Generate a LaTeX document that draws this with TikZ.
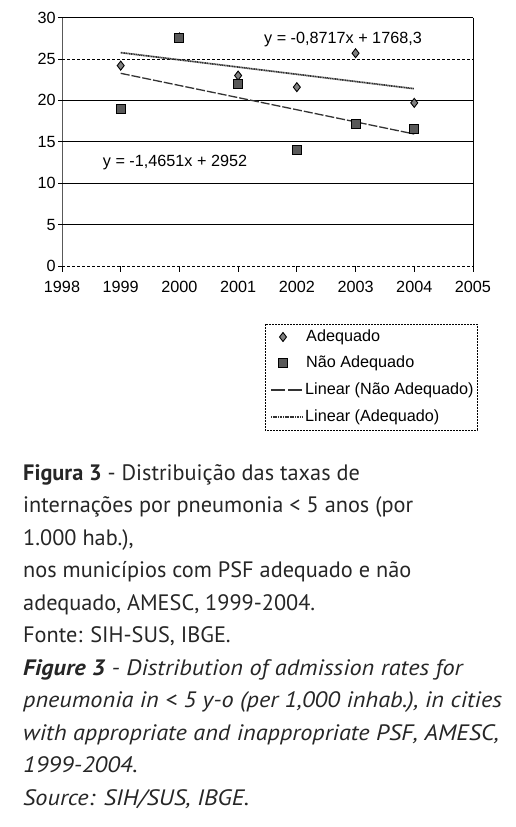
\documentclass[tikz,border=0pt]{standalone}
\usepackage{fontspec}
\setmainfont{PT Sans}[ItalicFeatures={FakeStretch=1.09},BoldItalicFeatures={FakeStretch=1.09}]
\newfontfamily\chartfont{Liberation Sans}
\usetikzlibrary{positioning}

\begin{document}
\begin{tikzpicture}[x=1pt,y=-1pt]
  \useasboundingbox (0,0) rectangle (515,827);
  % chart: years 1998..2005 along x, rates 0..30 along y
  \begin{scope}[xshift=62pt,yshift=-266pt,x=58.71pt,y=8.28pt,
      font=\chartfont\fontsize{16.2}{19}\selectfont]
    \foreach \v in {5,10,15,20,30} \draw[line width=0.8pt] (0,\v) -- (7,\v);
    \foreach \v in {0,25} \draw[line width=0.6pt,dash pattern=on 3pt off 2pt] (0,\v) -- (7,\v);
    \draw[line width=0.8pt] (0,30) -- (0,0) -- +(0,-6pt);
    \draw[line width=0.8pt] (7,30) -- (7,0) -- +(0,-6pt);
    \foreach \v in {0,5,...,30}
      \draw[line width=0.8pt] (0,\v) -- +(-4pt,0) node[left,inner sep=2pt] (ylab\v) {\v};
    \foreach \yr [count=\i from 0] in {1998,...,2005}
      \draw[line width=0.8pt] (\i,0) -- +(0,-6pt) node[below=8.5pt,inner sep=0pt] (xlab\yr) {\yr};
    % trend lines
    \draw[black!80,line width=1.7pt,dash pattern=on 1.2pt off 0.5pt] (1,25.77) -- (6,21.41);
    \draw[black!80,line width=1.3pt,dash pattern=on 9pt off 2pt] (1,23.27) -- (6,15.94);
    % Adequado
    \foreach \x/\v in {1/24.2,2/27.6,3/23.0,4/21.6,5/25.7,6/19.7}
      \filldraw[fill=black!50,line width=0.9pt] (\x,\v) +(0,4.5pt) -- +(3.5pt,0) -- +(0,-4.5pt) -- +(-3.5pt,0) -- cycle;
    % Nao Adequado
    \foreach \x/\v in {1/19.0,2/27.6,3/22.0,4/14.0,5/17.1,6/16.6}
      \filldraw[fill=black!65,line width=0.9pt] (\x,\v) +(-4.5pt,-4.5pt) rectangle +(4.5pt,4.5pt);
  \end{scope}
  \begin{scope}[font=\chartfont\fontsize{16.2}{19}\selectfont]
    \node (eqade) at (343,40) {y = -0,8717x + 1768,3};
    \node (eqnao) at (175,163) {y = -1,4651x + 2952};
    % legend
    \draw[line width=0.6pt,dash pattern=on 2pt off 1pt] (265,324) rectangle (477,430);
    \filldraw[fill=black!50,line width=0.9pt] (283,337) +(0,4.5pt) -- +(3.5pt,0) -- +(0,-4.5pt) -- +(-3.5pt,0) -- cycle;
    \filldraw[fill=black!65,line width=0.9pt] (283,363) +(-4.5pt,-4.5pt) rectangle +(4.5pt,4.5pt);
    \draw[black!80,line width=1.3pt,dash pattern=on 14pt off 3pt] (271,390) -- (303,390);
    \draw[black!80,line width=1.7pt,dash pattern=on 1.2pt off 0.5pt] (271,417) -- (303,417);
    \node[anchor=west,inner sep=1pt] (legade) at (305,337) {Adequado};
    \node[anchor=west,inner sep=1pt] (legnao) at (305,363) {Não Adequado};
    \node[anchor=west,inner sep=1pt] (leglinnao) at (304,390) {Linear (Não Adequado)};
    \node[anchor=west,inner sep=1pt] (leglinade) at (304,417) {Linear (Adequado)};
  \end{scope}
  % caption
  \foreach \txt [count=\i from 0] in {
      {\textbf{Figura 3} - Distribuição das taxas de},
      {internações por pneumonia < 5 anos (por},
      {1.000 hab.),},
      {nos municípios com PSF adequado e não},
      {adequado, AMESC, 1999-2004.},
      {Fonte: SIH-SUS, IBGE.},
      {\textit{\textbf{Figure 3} - Distribution of admission rates for}},
      {\textit{pneumonia in < 5 y-o (per 1,000 inhab.), in cities}},
      {\textit{with appropriate and inappropriate PSF, AMESC,}},
      {\textit{1999-2004.}},
      {\textit{Source: SIH/SUS, IBGE.}}}
    \node[anchor=base west,inner sep=0pt,text=black!85,font=\fontsize{22.3}{26}\selectfont]
      (cap\i) at (23,{480+32.5*\i}) {\txt};
\end{tikzpicture}
\end{document}
